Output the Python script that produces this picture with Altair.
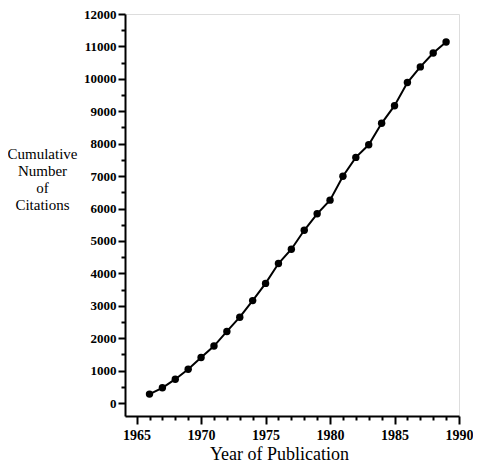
import altair as alt
import pandas as pd

years = list(range(1966, 1990))
citations = [276, 470, 736, 1043, 1402, 1758, 2209, 2648, 3160, 3690, 4304, 4745,
             5328, 5837, 6258, 6994, 7577, 7966, 8629, 9172, 9887, 10368, 10798, 11135]

y_all = list(range(0, 12001, 500))
x_all = list(range(1965, 1991))

df = pd.DataFrame({"year": years, "citations": citations})

FONT = "Liberation Serif"

x_enc = alt.X(
    "year:Q",
    scale=alt.Scale(domain=[1964.1, 1990], nice=False, zero=False),
    axis=alt.Axis(
        values=x_all,
        labelExpr="datum.value % 5 === 0 ? datum.label : ''",
        format="d",
        grid=False,
        labelOverlap=False, labelFlush=False,
        domainWidth=2, domainColor="black",
        tickColor="black", tickWidth=2,
        tickSize={"condition": {"test": "datum.value % 5 === 0", "value": 8}, "value": 4},
        labelFont=FONT, labelFontWeight="bold", labelFontSize=14, labelColor="black",
        labelPadding=4,
        title="Year of Publication",
        titleFont=FONT, titleFontSize=18, titleFontWeight="normal", titleColor="black",
        titleX=154, titleY=43, titleBaseline="alphabetic", titleAnchor="middle",
    ),
)

y_enc = alt.Y(
    "citations:Q",
    scale=alt.Scale(domain=[-400, 12000], nice=False, zero=False),
    axis=alt.Axis(
        values=y_all,
        labelExpr="datum.value % 1000 === 0 ? datum.label : ''",
        format="d",
        grid=False,
        labelOverlap=False, labelFlush=False,
        domainWidth=2, domainColor="black",
        tickColor="black", tickWidth=2,
        tickSize={"condition": {"test": "datum.value % 1000 === 0", "value": 7}, "value": 4},
        labelFont=FONT, labelFontWeight="bold", labelFontSize=13, labelColor="black",
        labelPadding=2,
        title=["Cumulative", "Number", "of", "Citations"],
        titleFont=FONT, titleFontSize=15, titleFontWeight="normal", titleColor="black",
        titleAngle=0, titleAlign="center", titleBaseline="alphabetic",
        titleX=-83, titleY=144, titleLineHeight=17,
    ),
)

base = alt.Chart(df).encode(x=x_enc, y=y_enc)
line = base.mark_line(color="black", strokeWidth=2)
pts = base.mark_point(filled=True, color="black", size=55, opacity=1)

chart = (
    alt.layer(line, pts)
    .properties(
        width=334,
        height=402,
        autosize=alt.AutoSizeParams(type="none"),
        padding={"left": 117, "top": 6, "right": 14, "bottom": 48},
    )
    .configure_view(stroke=None)
    .configure(background="white")
)

chart.save("out.html", embed_options={"renderer": "svg", "actions": False})
